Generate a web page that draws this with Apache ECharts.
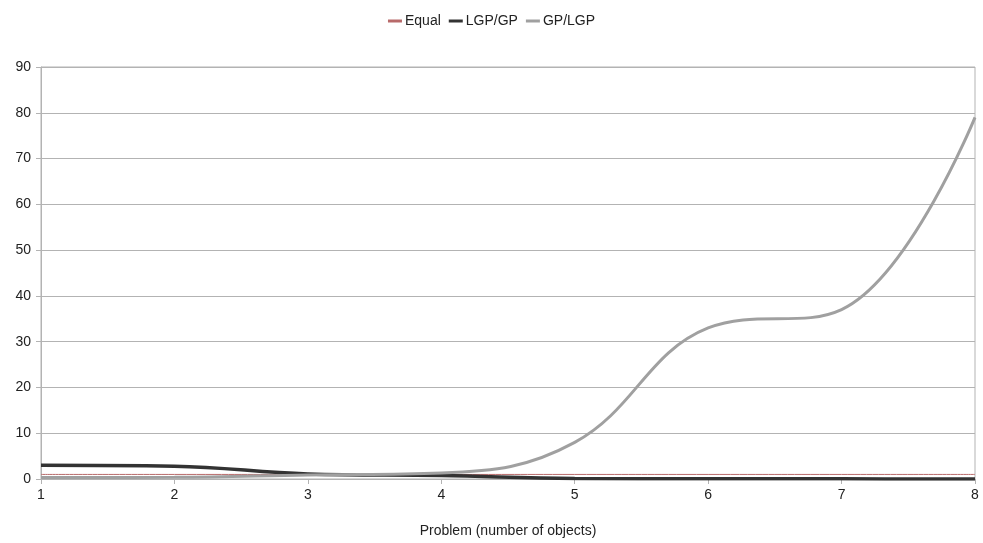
<!DOCTYPE html>
<html>
<head>
<meta charset="utf-8">
<script src="https://cdn.jsdelivr.net/npm/echarts@6/dist/echarts.min.js"></script>
<style>
  html, body { margin: 0; padding: 0; background: #fff; }
  #chart { width: 983px; height: 543px; }
</style>
</head>
<body>
<div id="chart"></div>
<script>
// problem sizes (number of objects)
const problems = [1, 2, 3, 4, 5, 6, 7, 8];
const equal = [1, 1, 1, 1, 1, 1, 1, 1];
const lgpOverGp = [3.0, 2.8, 1.1, 0.75, 0.12, 0.03, 0.03, 0.01];
const gpOverLgp = [0.33, 0.36, 0.9, 1.33, 8.0, 33.0, 37.0, 79.0];
const yTicks = [0, 10, 20, 30, 40, 50, 60, 70, 80, 90];

function pairs(ys) {
  return problems.map(function (x, i) { return [x, ys[i]]; });
}

const axisGray = "#b3b3b3";
const font = "Liberation Sans, Arial, sans-serif";
const textStyle = { color: "#222", fontSize: 14, fontFamily: font };

let myChart = echarts.init(document.getElementById("chart"));
myChart.setOption({
  animation: false,
  legend: {
    top: 9,
    left: "center",
    icon: "rect",
    itemWidth: 14,
    itemHeight: 3,
    itemGap: 8,
    textStyle: Object.assign({ padding: [0, 0, 0, -2] }, textStyle),
    data: ["Equal", "LGP/GP", "GP/LGP"]
  },
  grid: {
    left: 41,
    right: 8,
    top: 67,
    bottom: 63,
    show: true,
    borderColor: axisGray,
    borderWidth: 1
  },
  xAxis: {
    type: "value",
    min: 1,
    max: 8,
    interval: 1,
    name: "Problem (number of objects)",
    nameLocation: "middle",
    nameGap: 45,
    nameTextStyle: { color: "#222", fontSize: 14, fontFamily: font },
    axisLine: { lineStyle: { color: axisGray } },
    axisTick: { length: 5, lineStyle: { color: axisGray } },
    axisLabel: Object.assign({ margin: 9 }, textStyle),
    splitLine: { show: false }
  },
  yAxis: {
    type: "value",
    min: yTicks[0],
    max: yTicks[yTicks.length - 1],
    interval: 10,
    axisLine: { show: true, lineStyle: { color: axisGray } },
    axisTick: { show: true, length: 5, lineStyle: { color: axisGray } },
    axisLabel: Object.assign({ margin: 10 }, textStyle),
    splitLine: { lineStyle: { color: axisGray } }
  },
  series: [
    {
      name: "Equal",
      type: "line",
      smooth: true,
      showSymbol: false,
      color: "#b86a6a",
      lineStyle: { width: 1 },
      data: pairs(equal)
    },
    {
      name: "LGP/GP",
      type: "line",
      smooth: 0.4,
      showSymbol: false,
      color: "#333333",
      lineStyle: { width: 3.5 },
      data: pairs(lgpOverGp)
    },
    {
      name: "GP/LGP",
      type: "line",
      smooth: 0.4,
      showSymbol: false,
      color: "#a0a0a0",
      lineStyle: { width: 3 },
      data: pairs(gpOverLgp)
    }
  ]
});
window.addEventListener("resize", function () {
  myChart.resize();
});
</script>
</body>
</html>
